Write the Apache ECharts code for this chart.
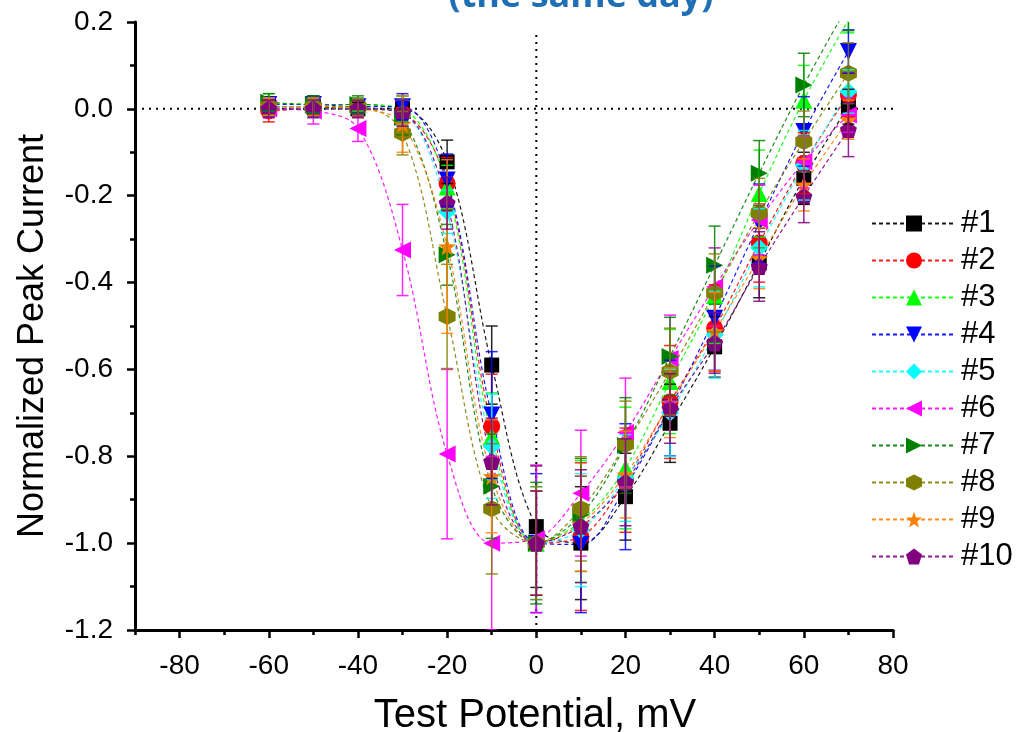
<!DOCTYPE html>
<html><head><meta charset="utf-8">
<script src="https://cdn.jsdelivr.net/npm/echarts@6/dist/echarts.min.js"></script>
<style>html,body{margin:0;padding:0;background:#fff}#c{width:1024px;height:732px}</style>
</head><body><div id="c"></div>
<script>
// ---- data ----
const voltages = [-60,-50,-40,-30,-20,-10,0,10,20,30,40,50,60,70];
const names = ['#1','#2','#3','#4','#5','#6','#7','#8','#9','#10'];
const s1  = [0.005,0.005,0.0,0.0,-0.122,-0.59,-0.962,-1.0,-0.893,-0.724,-0.548,-0.355,-0.16,0.005];
const s2  = [-0.005,0.0,0.0,-0.01,-0.172,-0.731,-1.0,-0.985,-0.855,-0.675,-0.505,-0.309,-0.125,0.032];
const s3  = [0.015,0.01,0.01,0.0,-0.18,-0.754,-1.0,-0.95,-0.827,-0.628,-0.43,-0.195,0.02,0.205];
const s4  = [0.01,0.01,0.005,0.005,-0.164,-0.705,-1.0,-1.003,-0.87,-0.689,-0.482,-0.263,-0.052,0.132];
const s5  = [0.005,0.0,0.0,-0.01,-0.237,-0.777,-1.0,-0.97,-0.85,-0.70,-0.52,-0.32,-0.13,0.04];
const s6  = [0.0,-0.005,-0.045,-0.325,-0.795,-1.0,-0.99,-0.885,-0.745,-0.575,-0.41,-0.256,-0.122,-0.014];
const s7  = [0.015,0.01,0.01,-0.02,-0.336,-0.869,-1.0,-0.935,-0.775,-0.57,-0.36,-0.148,0.055,0.24];
const s8  = [0.005,0.005,0.005,-0.056,-0.478,-0.921,-1.0,-0.921,-0.773,-0.605,-0.424,-0.24,-0.075,0.082];
const s9  = [0.005,0.005,0.0,-0.035,-0.317,-0.846,-1.0,-0.955,-0.842,-0.677,-0.513,-0.344,-0.175,-0.025];
const s10 = [0.0,0.0,0.0,-0.01,-0.217,-0.812,-1.0,-0.961,-0.86,-0.69,-0.539,-0.363,-0.202,-0.048];
const e1  = [0.02,0.02,0.015,0.03,0.05,0.09,0.14,0.13,0.10,0.09,0.07,0.08,0.06,0.04];
const e2  = [0.025,0.02,0.02,0.03,0.06,0.12,0.12,0.17,0.12,0.13,0.10,0.09,0.07,0.05];
const e3  = [0.02,0.02,0.015,0.03,0.05,0.10,0.12,0.14,0.14,0.12,0.11,0.10,0.08,0.03];
const e4  = [0.015,0.02,0.015,0.03,0.06,0.146,0.16,0.157,0.145,0.11,0.12,0.09,0.08,0.05];
const e5  = [0.02,0.02,0.02,0.03,0.05,0.12,0.13,0.13,0.10,0.10,0.10,0.09,0.08,0.05];
const e6  = [0.02,0.03,0.03,0.105,0.195,0.20,0.17,0.145,0.125,0.10,0.09,0.08,0.06,0.04];
const e7  = [0.02,0.02,0.02,0.04,0.07,0.12,0.14,0.13,0.11,0.09,0.09,0.075,0.073,0.06];
const e8  = [0.02,0.02,0.02,0.05,0.12,0.15,0.13,0.12,0.10,0.10,0.09,0.08,0.07,0.07];
const e9  = [0.02,0.02,0.02,0.065,0.20,0.13,0.12,0.11,0.10,0.08,0.09,0.07,0.06,0.045];
const e10 = [0.02,0.02,0.02,0.03,0.06,0.10,0.12,0.13,0.10,0.08,0.07,0.08,0.06,0.062];
const xMajorTicks = [-80,-60,-40,-20,0,20,40,60,80];
const xMinorTicks = [-90,-70,-50,-30,-10,10,30,50,70];
const zeroLineH = [[-90,0],[80,0]];
const zeroLineV = [[0,0.17],[0,-1.2]];
const titleText = '(the same day)';

// ---- styles ----
const values = [s1,s2,s3,s4,s5,s6,s7,s8,s9,s10];
const errors = [e1,e2,e3,e4,e5,e6,e7,e8,e9,e10];
const colors = ['#000000','#ff0000','#00ff00','#0000ff','#00ffff','#ff00ff','#008000','#808000','#ff8000','#800080'];
const HEX = 'path://M0,-100 L86.6,-50 L86.6,50 L0,100 L-86.6,50 L-86.6,-50 Z';
const STAR = 'path://M0,-100 L23.5,-32.4 L95.1,-30.9 L38,12.4 L58.8,80.9 L0,40 L-58.8,80.9 L-38,12.4 L-95.1,-30.9 L-23.5,-32.4 Z';
const PENT = 'path://M0,-100 L95.1,-30.9 L58.8,80.9 L-58.8,80.9 L-95.1,-30.9 Z';
const symbols = [
  {s:'rect', r:0, size:15},
  {s:'circle', r:0, size:17},
  {s:'triangle', r:0, size:17},
  {s:'triangle', r:180, size:17},
  {s:'diamond', r:0, size:18},
  {s:'triangle', r:90, size:17},
  {s:'triangle', r:-90, size:17},
  {s:HEX, r:0, size:17},
  {s:STAR, r:0, size:18},
  {s:PENT, r:0, size:17}
];

function renderErr(params, api){
  const x = api.value(0), y = api.value(1), e = api.value(2);
  const top = api.coord([x, y + e]), bot = api.coord([x, y - e]);
  const w = 6;
  const style = {stroke: api.visual('color'), lineWidth: 1.5, opacity: 0.85};
  return {type:'group', children:[
    {type:'line', shape:{x1:top[0], y1:top[1], x2:bot[0], y2:bot[1]}, style},
    {type:'line', shape:{x1:top[0]-w, y1:top[1], x2:top[0]+w, y2:top[1]}, style},
    {type:'line', shape:{x1:bot[0]-w, y1:bot[1], x2:bot[0]+w, y2:bot[1]}, style}
  ]};
}

const series = [];
const font = '"Liberation Sans", Arial, sans-serif';
series.push({type:'line', data: zeroLineH, symbol:'none', silent:true, z:1,
  lineStyle:{color:'#000', width:2, type:[2,5]}});
series.push({type:'line', data: zeroLineV, symbol:'none', silent:true, z:1,
  lineStyle:{color:'#000', width:2, type:[2,5]}});
names.forEach((n,i)=>{
  series.push({
    name:n, type:'line', smooth:0.35,
    data: voltages.map((v,j)=>[v, values[i][j]]),
    symbol: symbols[i].s, symbolRotate: symbols[i].r, symbolSize: symbols[i].size,
    itemStyle:{color: colors[i], opacity:1},
    lineStyle:{color: colors[i], width:1.2, type:[4,3], opacity:0.9},
    z: 2, clip: true
  });
});
names.forEach((n,i)=>{
  series.push({
    name: n + ' err', type:'custom', renderItem: renderErr, clip: true, z: 3,
    itemStyle:{color: colors[i]},
    data: voltages.map((v,j)=>[v, values[i][j], errors[i][j]])
  });
});

const option = {
  animation:false,
  backgroundColor:'#ffffff',
  textStyle:{fontFamily: font},
  graphic:[{type:'text', x:581, y:-3, style:{text:titleText, fill:'#1f6fb5',
    font:'bold 36px "Open Sans", sans-serif', align:'center', verticalAlign:'middle'}}],
  grid:{left:135, right:131, top:22, bottom:102, outerBoundsMode:'none', containLabel:false},
  legend:{
    data:names, orient:'vertical', left:866, top:203,
    itemWidth:84, itemHeight:20, itemGap:6,
    textStyle:{fontSize:31, color:'#000', fontFamily:font},
    inactiveColor:'#ccc'
  },
  xAxis:[{
    type:'value', min:-90, max:80, interval:10,
    name:'Test Potential, mV', nameLocation:'middle', nameGap:66,
    nameTextStyle:{fontSize:40, color:'#000', fontFamily:font, padding:[0,0,0,42]},
    axisLine:{show:true, onZero:false, lineStyle:{color:'#000', width:3}},
    axisTick:{show:true, inside:false, length:8, customValues: xMajorTicks, lineStyle:{color:'#000', width:2.5}},
    axisLabel:{show:true, customValues: xMajorTicks, fontSize:28, color:'#000', margin:22, fontFamily:font},
    splitLine:{show:false}
  },{
    type:'value', min:-90, max:80, interval:10, position:'bottom',
    axisLine:{show:false, onZero:false},
    axisTick:{show:true, inside:false, length:5, customValues: xMinorTicks, lineStyle:{color:'#000', width:2.5}},
    axisLabel:{show:false},
    splitLine:{show:false}
  }],
  yAxis:{
    type:'value', min:-1.2, max:0.2, interval:0.2,
    name:'Normalized Peak Current', nameLocation:'middle', nameGap:84, nameRotate:90,
    nameTextStyle:{fontSize:36, color:'#000', fontFamily:font, padding:[0,20,0,0]},
    axisLine:{show:true, onZero:false, lineStyle:{color:'#000', width:3}},
    axisTick:{show:true, inside:false, length:8, lineStyle:{color:'#000', width:2.5}},
    minorTick:{show:true, splitNumber:2, length:5, lineStyle:{color:'#000', width:2.5}},
    axisLabel:{fontSize:28, color:'#000', margin:22, fontFamily:font,
      formatter: v => (Math.abs(v) < 1e-9 ? 0 : v).toFixed(1)},
    splitLine:{show:false}
  },
  series
};
const chart = echarts.init(document.getElementById('c'), null, {renderer:'canvas'});
chart.setOption(option);
</script></body></html>
